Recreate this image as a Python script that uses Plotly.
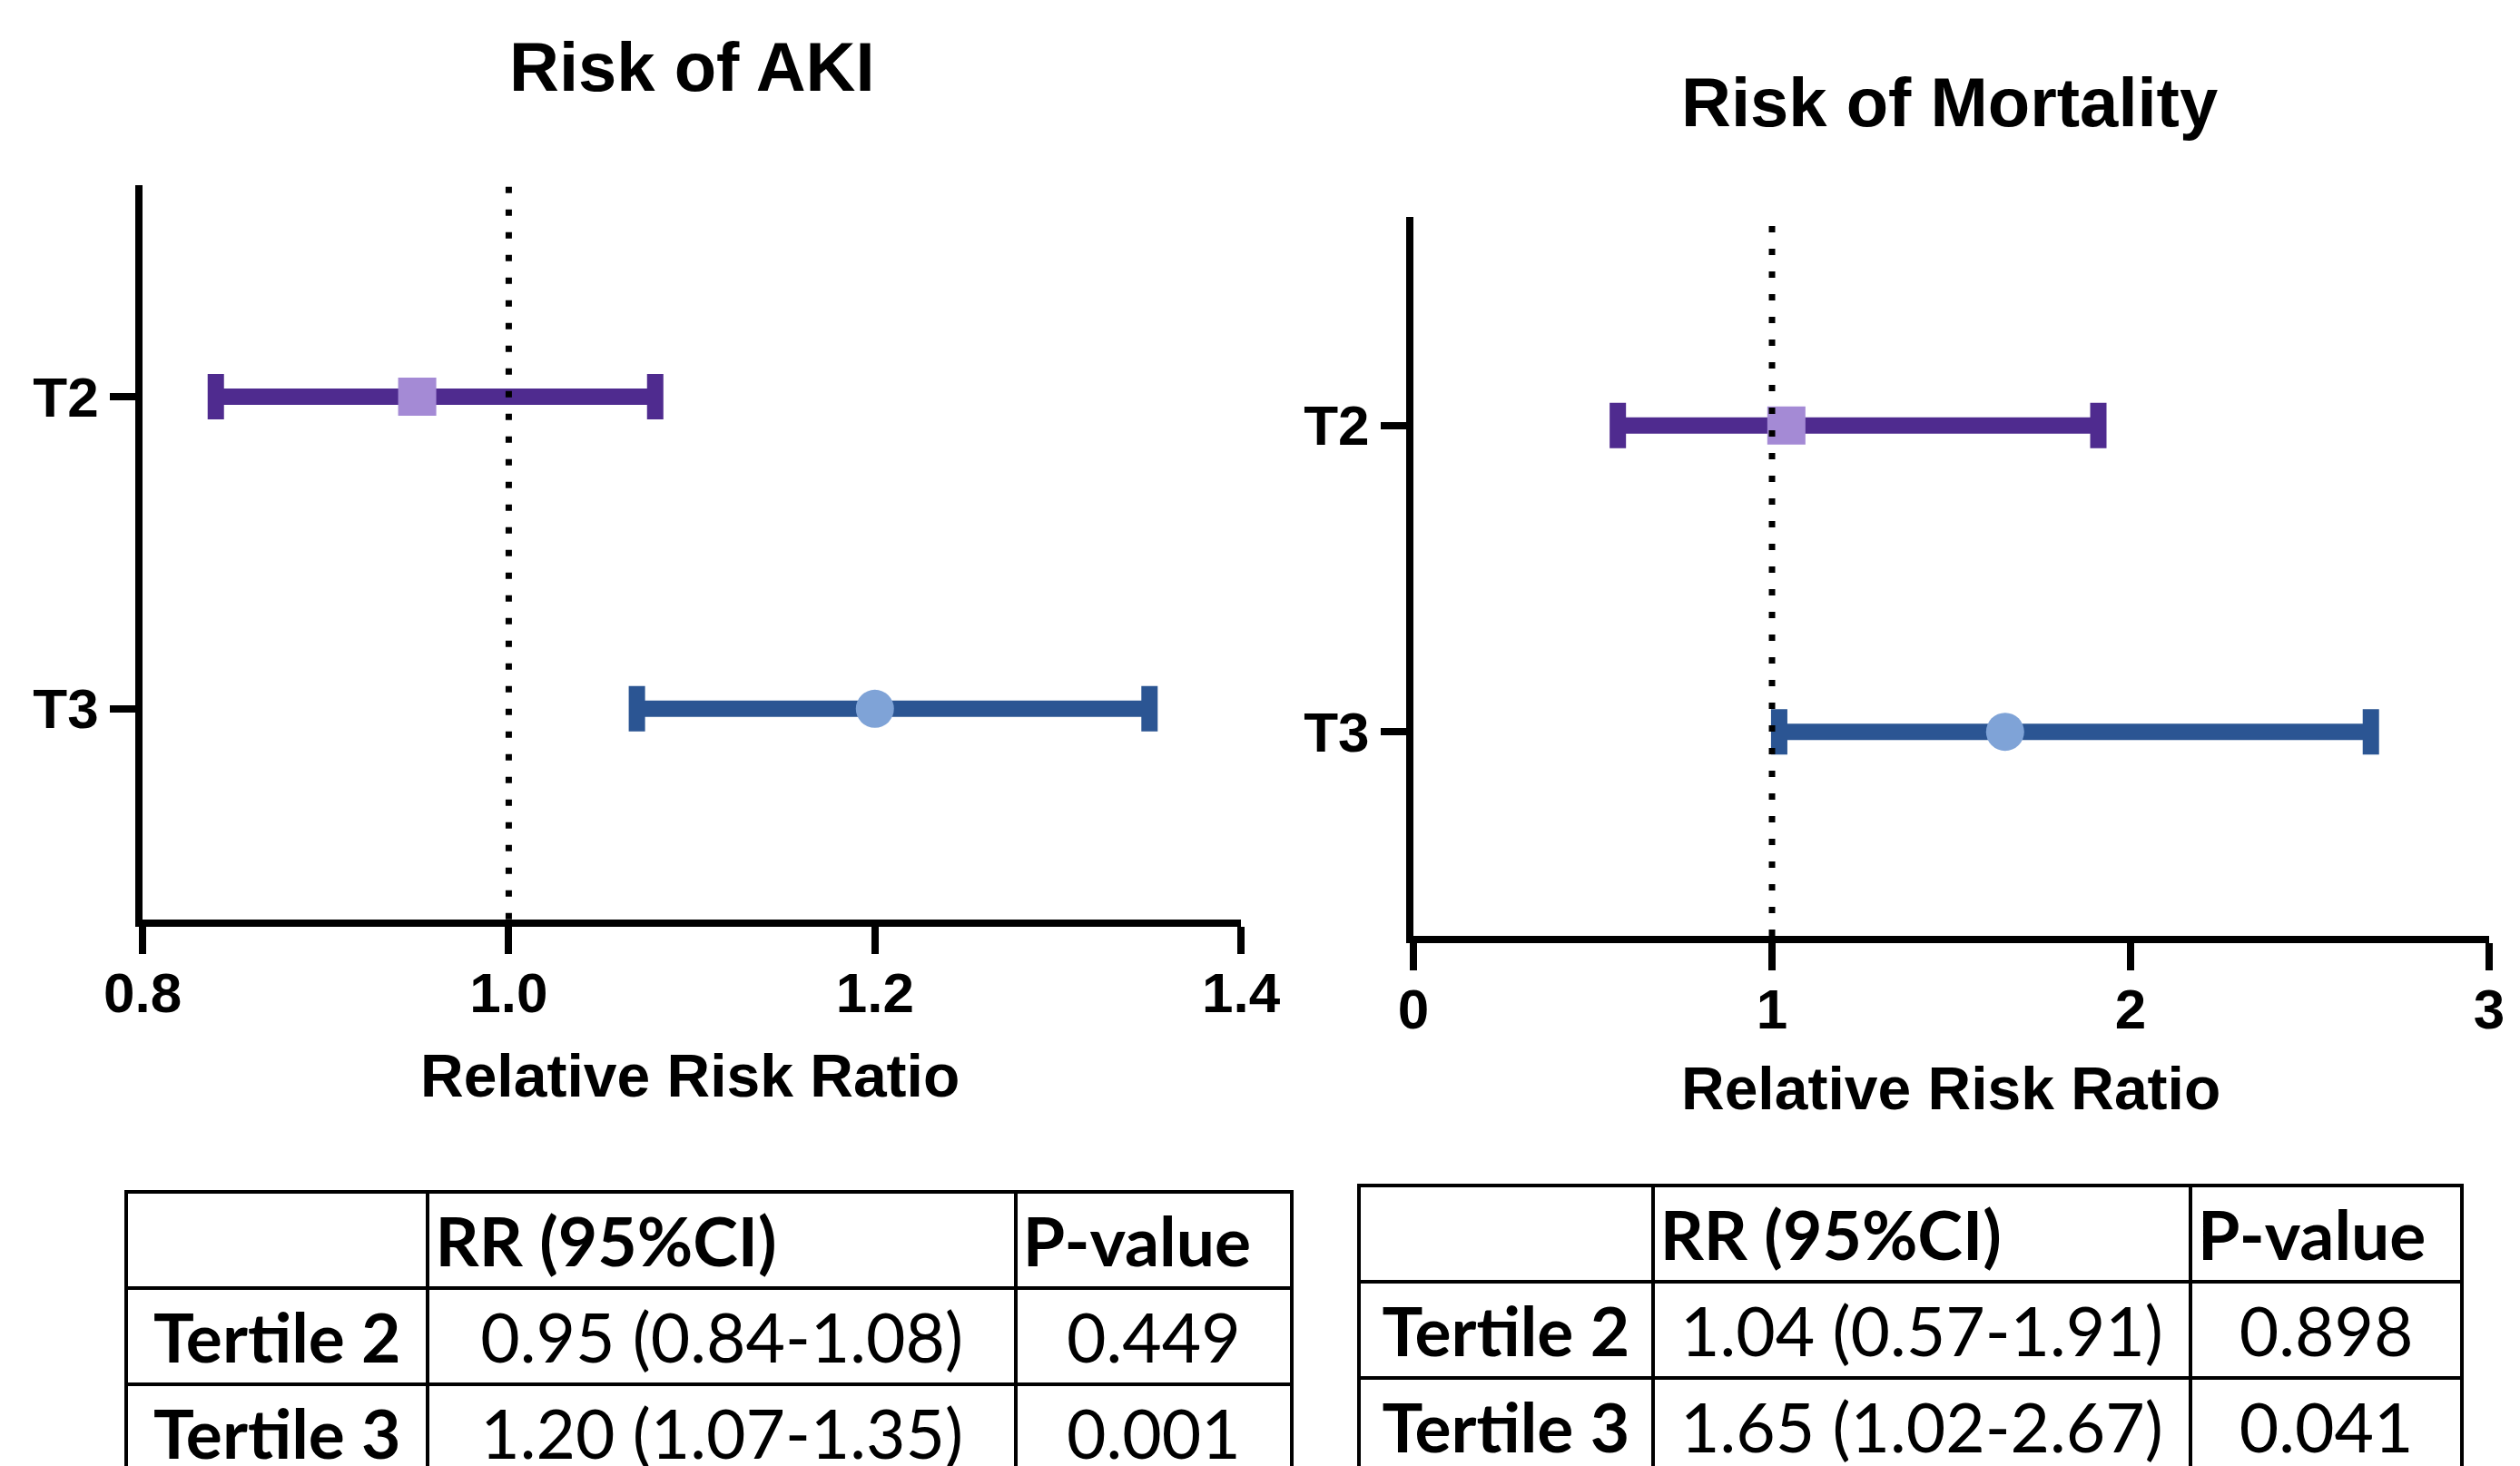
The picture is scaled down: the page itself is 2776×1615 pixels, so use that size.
import plotly.graph_objects as go

# ---- data ----
groups = ["T2", "T3"]
group_pos = [1, 2]
table_rows = ["Tertile 2", "Tertile 3"]

aki_rr = [0.95, 1.20]
aki_lo = [0.84, 1.07]
aki_hi = [1.08, 1.35]
aki_p = ["0.449", "0.001"]

mort_rr = [1.04, 1.65]
mort_lo = [0.57, 1.02]
mort_hi = [1.91, 2.67]
mort_p = ["0.898", "0.041"]

aki_xticks = [0.8, 1.0, 1.2, 1.4]
aki_xtext = ["0.8", "1.0", "1.2", "1.4"]
mort_xticks = [0, 1, 2, 3]
mort_xtext = ["0", "1", "2", "3"]

line_colors = ["#4F2B8F", "#2B5593"]
marker_colors = ["#A48AD5", "#7FA3D7"]
marker_symbols = ["square", "circle"]

W, H = 2776, 1615
fig = go.Figure()


def add_forest(rr, lo, hi, xa, ya):
    for i in range(len(groups)):
        fig.add_trace(go.Scatter(
            x=[rr[i]], y=[group_pos[i]], xaxis=xa, yaxis=ya,
            mode="markers", showlegend=False,
            marker=dict(symbol=marker_symbols[i], size=42, color=marker_colors[i],
                        line=dict(width=0)),
            error_x=dict(type="data", symmetric=False,
                         array=[hi[i] - rr[i]], arrayminus=[rr[i] - lo[i]],
                         color=line_colors[i], thickness=18, width=25),
        ))


add_forest(aki_rr, aki_lo, aki_hi, "x", "y")
add_forest(mort_rr, mort_lo, mort_hi, "x2", "y2")

axis_common = dict(showgrid=False, zeroline=False, showline=True, linecolor="black",
                   linewidth=8, ticks="outside", tickcolor="black", tickwidth=8,
                   automargin=False,
                   tickfont=dict(family="Liberation Sans", size=62, color="black", weight="bold"))

fig.update_layout(
    width=W, height=H, margin=dict(l=0, r=0, t=0, b=0, autoexpand=False),
    paper_bgcolor="white", plot_bgcolor="white",
    font=dict(family="Liberation Sans", color="black"),
    xaxis=dict(domain=[0.0537, 0.4896], range=[0.8, 1.4], tickvals=aki_xticks,
               ticktext=aki_xtext, anchor="y", ticklen=30, ticklabelstandoff=-10, **axis_common),
    yaxis=dict(domain=[0.3778, 0.8787], range=[2.675, 0.322], tickvals=group_pos,
               ticktext=groups, anchor="x", ticklen=28, **axis_common),
    xaxis2=dict(domain=[0.5580, 0.9849], range=[0, 3], tickvals=mort_xticks,
                ticktext=mort_xtext, anchor="y2", ticklen=30, ticklabelstandoff=-10, **axis_common),
    yaxis2=dict(domain=[0.3666, 0.857], range=[2.666, 0.319], tickvals=group_pos,
                ticktext=groups, anchor="x2", ticklen=28, **axis_common),
)

# reference lines at RR = 1
for xr, yr in [("x", "y domain"), ("x2", "y2 domain")]:
    fig.add_shape(type="line", xref=xr, yref=yr, x0=1, x1=1, y0=0, y1=1,
                  line=dict(color="black", width=7, dash="7px,18px"), layer="above")

# titles
title_font = dict(family="Liberation Sans", size=76, color="black", weight="bold")
label_font = dict(family="Liberation Sans", size=66, color="black", weight="bold")
fig.add_annotation(text="Risk of AKI", xref="paper", yref="paper", x=754 / W, y=1 - 65 / H,
                   showarrow=False, font=title_font, xanchor="center", yanchor="middle")
fig.add_annotation(text="Risk of Mortality", xref="paper", yref="paper", x=2139 / W, y=1 - 104 / H,
                   showarrow=False, font=title_font, xanchor="center", yanchor="middle")
fig.add_annotation(text="Relative Risk Ratio", xref="paper", yref="paper", x=752 / W, y=1 - 1177 / H,
                   showarrow=False, font=label_font, xanchor="center", yanchor="middle")
fig.add_annotation(text="Relative Risk Ratio", xref="paper", yref="paper", x=2141 / W, y=1 - 1191 / H,
                   showarrow=False, font=label_font, xanchor="center", yanchor="middle")


# tables
def add_table(rr, lo, hi, pv, x0, x1, ytop, colw, row_h):
    ci_text = [f"<span>{rr[i]:.2f} ({lo[i]:.2f}-{hi[i]:.2f})</span>" for i in range(len(rr))]
    fig.add_trace(go.Table(
        domain=dict(x=[x0, x1], y=[0, ytop]),
        columnwidth=colw,
        header=dict(values=["", "<b>RR (95%CI)</b>", "<b>P-value</b>"],
                    align="left", height=103,
                    font=dict(family="Lato", size=75, color="black"),
                    line=dict(color="black", width=4), fill=dict(color="white")),
        cells=dict(values=[[f"<b>{r}</b>" for r in table_rows], ci_text,
                           [f"<span>{p}</span>" for p in pv]],
                   align="center", height=row_h,
                   font=dict(family="Lato", size=75, color="black"),
                   line=dict(color="black", width=4), fill=dict(color="white")),
    ))


add_table(aki_rr, aki_lo, aki_hi, aki_p, 131 / W, 1416 / W, 1 - 1305 / H, [188, 366, 172], 98)
add_table(mort_rr, mort_lo, mort_hi, mort_p, 1489 / W, 2705 / W, 1 - 1298 / H, [183, 335, 169], 98)

fig.write_html("out.html")
